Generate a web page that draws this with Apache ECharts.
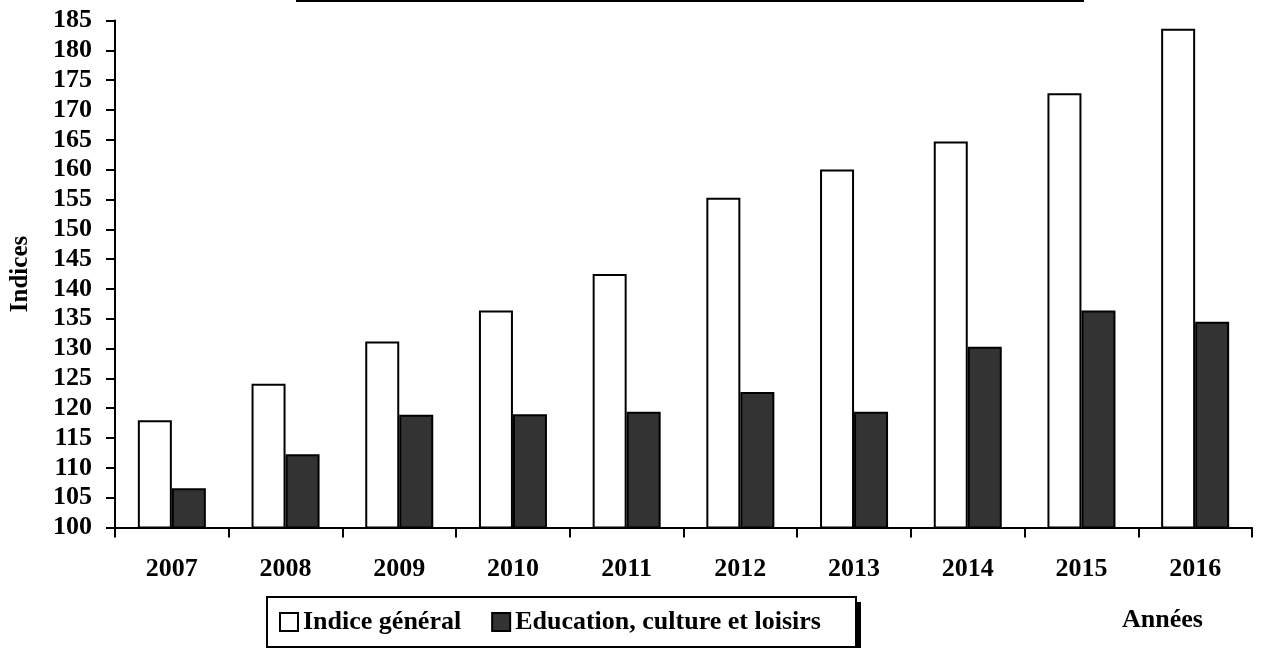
<!DOCTYPE html>
<html>
<head>
<meta charset="utf-8">
<script src="https://cdn.jsdelivr.net/npm/echarts@6/dist/echarts.min.js"></script>
<style>
html,body{margin:0;padding:0;background:#fff;}
#chart{width:1264px;height:648px;}
</style>
</head>
<body>
<div id="chart"></div>
<script>
const categories = ['2007','2008','2009','2010','2011','2012','2013','2014','2015','2016'];
const indiceGeneral = [118.0, 124.1, 131.2, 136.4, 142.5, 155.3, 160.0, 164.7, 172.8, 183.6];
const education = [106.6, 112.3, 118.9, 119.0, 119.4, 122.7, 119.4, 130.3, 136.4, 134.5];
const seriesNames = ['Indice général', 'Education, culture et loisirs'];
const yAxisName = 'Indices';
const xAxisName = 'Années';

const FONT = '"Liberation Serif", "Times New Roman", serif';
const chart = echarts.init(document.getElementById('chart'), null, {renderer: 'canvas'});
chart.setOption({
  animation: false,
  backgroundColor: '#fff',
  grid: {left: 115, right: 12, top: 20.5, bottom: 120.5, containLabel: false},
  xAxis: {
    type: 'category',
    data: categories,
    axisLine: {lineStyle: {color: '#000', width: 2}},
    axisTick: {show: true, length: 10, lineStyle: {color: '#000', width: 2}},
    axisLabel: {color: '#000', fontFamily: FONT, fontWeight: 'bold', fontSize: 26, margin: 29}
  },
  yAxis: {
    type: 'value',
    min: 100, max: 185, interval: 5,
    name: yAxisName,
    nameLocation: 'middle',
    nameRotate: 90,
    nameGap: 82,
    nameTextStyle: {color: '#000', fontFamily: FONT, fontWeight: 'bold', fontSize: 25},
    axisLine: {show: true, lineStyle: {color: '#000', width: 2}},
    axisTick: {show: true, length: 9, lineStyle: {color: '#000', width: 2}},
    splitLine: {show: false},
    axisLabel: {color: '#000', fontFamily: FONT, fontWeight: 'bold', fontSize: 26, margin: 23}
  },
  legend: {
    data: seriesNames,
    left: 267, top: 609,
    orient: 'horizontal',
    padding: [0, 0, 0, 12],
    itemWidth: 18, itemHeight: 18, itemGap: 30,
    textStyle: {color: '#000', fontFamily: FONT, fontWeight: 'bold', fontSize: 26},
    icon: 'rect'
  },
  series: [
    {
      name: seriesNames[0], type: 'bar', data: indiceGeneral,
      barWidth: 34, barGap: '0%',
      itemStyle: {color: '#ffffff', borderColor: '#000', borderWidth: 2}
    },
    {
      name: seriesNames[1], type: 'bar', data: education,
      barWidth: 34, barGap: '0%',
      itemStyle: {color: '#333333', borderColor: '#000', borderWidth: 2}
    }
  ],
  graphic: [
    {type: 'line', shape: {x1: 296, y1: 1, x2: 1084, y2: 1}, style: {stroke: '#000', lineWidth: 2}},
    {type: 'rect', z: 0, shape: {x: 272, y: 602, width: 589, height: 50}, style: {fill: '#000'}},
    {type: 'rect', z: 1, shape: {x: 267, y: 597, width: 589, height: 50}, style: {fill: '#fff', stroke: '#000', lineWidth: 2}},
    {type: 'text', left: 1122, top: 607, style: {text: xAxisName, fill: '#000', font: 'bold 26px ' + FONT}}
  ]
});
</script>
</body>
</html>
